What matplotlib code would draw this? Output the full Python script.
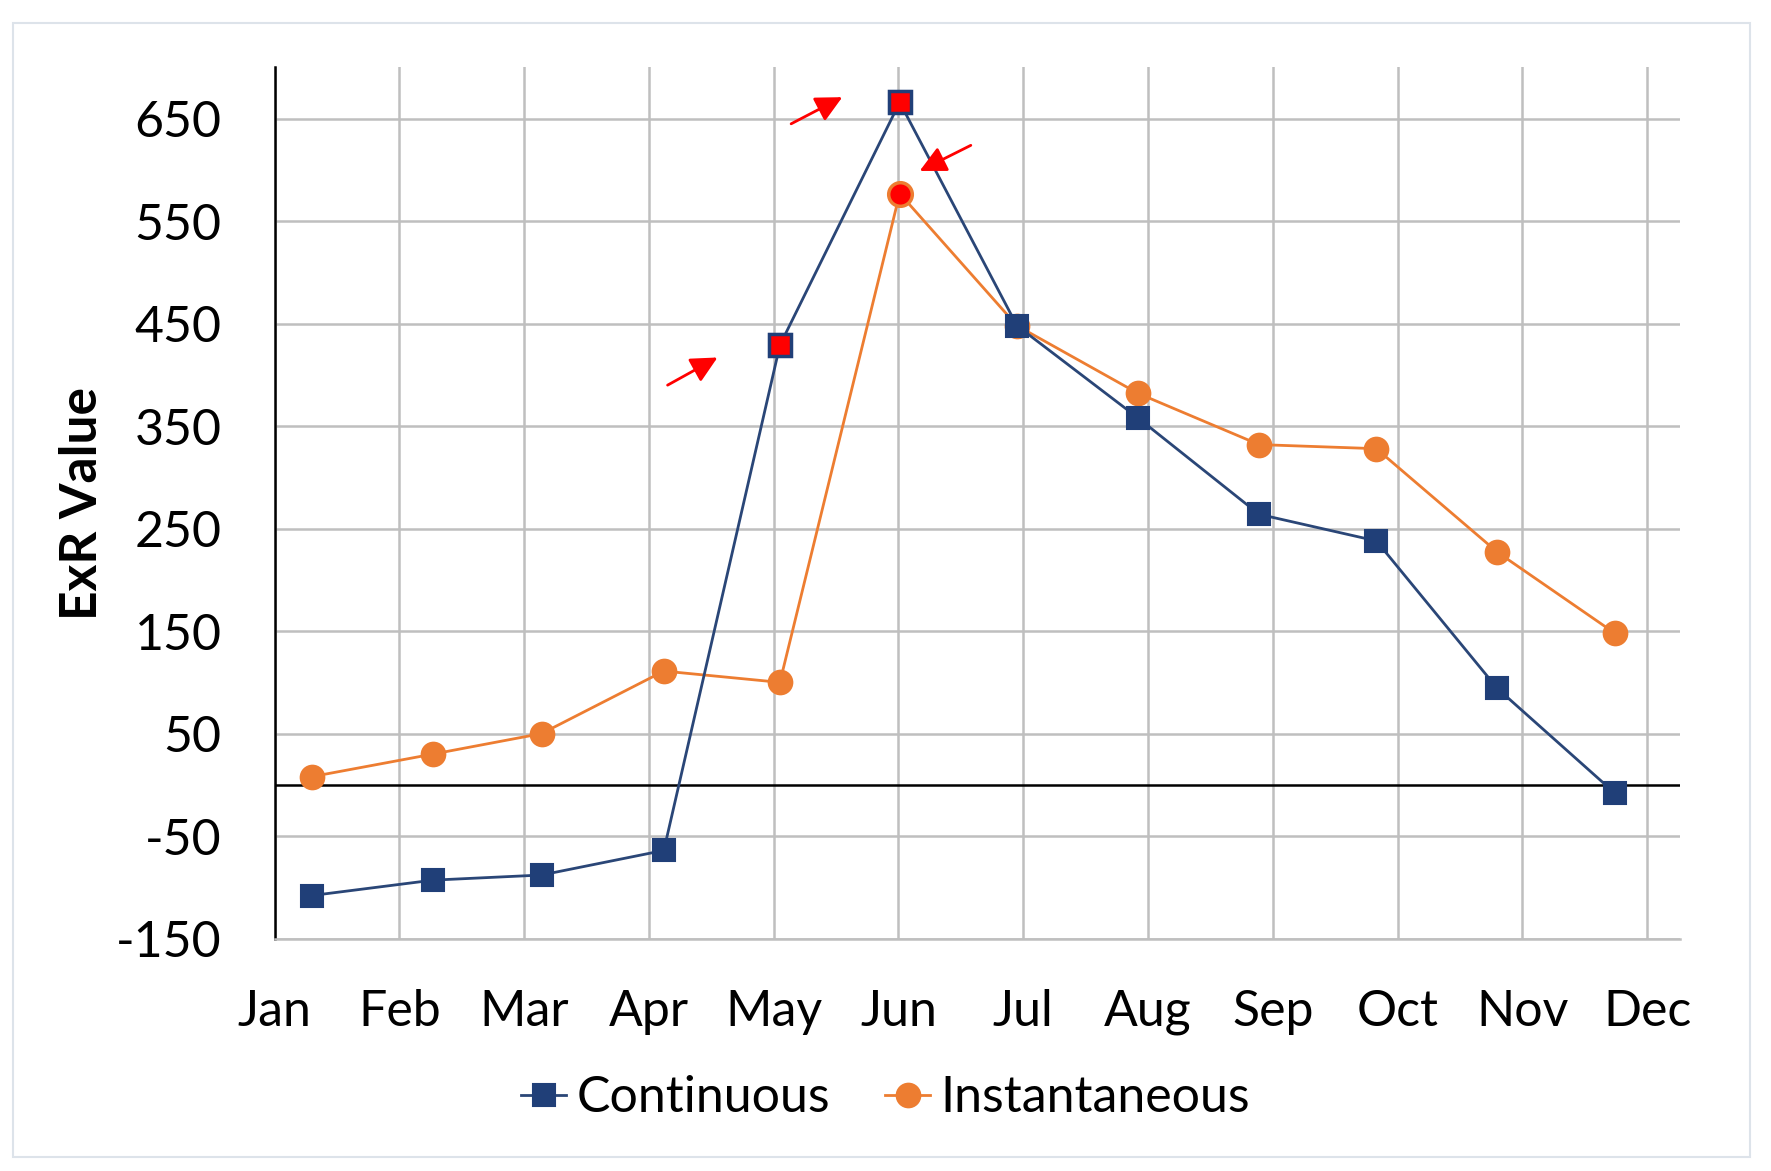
import matplotlib
matplotlib.use("Agg")
import matplotlib.pyplot as plt
from matplotlib.patches import Rectangle

# -------- data --------
MONTHS = ["Jan", "Feb", "Mar", "Apr", "May", "Jun",
          "Jul", "Aug", "Sep", "Oct", "Nov", "Dec"]
# position of each sample on the month axis (Jan = 0)
X_POS = [0.30, 1.27, 2.14, 3.12, 4.05, 5.01, 5.95, 6.92, 7.89, 8.83, 9.80, 10.74]
CONTINUOUS = [-108, -93, -88, -64, 429, 666, 448, 358, 264, 238, 94, -8]
INSTANTANEOUS = [8, 30, 50, 111, 100, 577, 448, 382, 332, 328, 227, 148]
# points highlighted in red
HIGHLIGHT_CONT = [4, 5]
HIGHLIGHT_INST = [5]
# red arrows (tail -> tip) in data units
ARROWS = [((3.15, 390), (3.55, 417)),
          ((4.14, 645), (4.55, 671)),
          ((5.58, 624), (5.17, 599))]
Y_TICKS = [-150, -50, 50, 150, 250, 350, 450, 550, 650]

# -------- style --------
NAVY = "#203F78"
NAVY_LINE = "#2A4677"
ORANGE = "#ED7D31"
GRID = "#BFBFBF"

plt.rcParams["font.family"] = ["Lato", "DejaVu Sans"]
plt.rcParams["axes.unicode_minus"] = False

fig = plt.figure(figsize=(17.71, 11.71), dpi=100)
ax = fig.add_axes([0.155, 0.1985, 0.7934, 0.7439])

ax.plot(X_POS, CONTINUOUS, color=NAVY_LINE, lw=2, marker="s", ms=16,
        mfc=NAVY, mec=NAVY, mew=1.5, label="Continuous", zorder=4)
ax.plot(X_POS, INSTANTANEOUS, color=ORANGE, lw=2, marker="o", ms=17,
        mfc=ORANGE, mec=ORANGE, mew=1.5, label="Instantaneous", zorder=3)

# red highlighted markers
ax.plot([X_POS[i] for i in HIGHLIGHT_CONT], [CONTINUOUS[i] for i in HIGHLIGHT_CONT],
        ls="none", marker="s", ms=16, mfc="red", mec=NAVY, mew=2.5, zorder=5)
ax.plot([X_POS[i] for i in HIGHLIGHT_INST], [INSTANTANEOUS[i] for i in HIGHLIGHT_INST],
        ls="none", marker="o", ms=17, mfc="red", mec=ORANGE, mew=2.5, zorder=5)

for tail, tip in ARROWS:
    ax.annotate("", xy=tip, xytext=tail,
                arrowprops=dict(arrowstyle="-|>", color="red", lw=2,
                                mutation_scale=40, shrinkA=0, shrinkB=0),
                zorder=6)

ax.axhline(0, color="black", lw=1.8, zorder=2)

ax.set_xlim(0, 11.26)
ax.set_ylim(-150, 700)
ax.set_xticks(range(len(MONTHS)))
ax.set_xticklabels(MONTHS)
ax.set_yticks(Y_TICKS)

ax.grid(True, color=GRID, lw=1.8, zorder=0)
ax.set_axisbelow(True)
for s in ["top", "right"]:
    ax.spines[s].set_visible(False)
ax.spines["bottom"].set_color(GRID)
ax.spines["bottom"].set_linewidth(1.8)
ax.spines["left"].set_color("black")
ax.spines["left"].set_linewidth(1.8)
ax.tick_params(axis="both", length=0, labelsize=36)
ax.tick_params(axis="x", pad=36)
ax.tick_params(axis="y", pad=38)

ax.set_ylabel("ExR Value", fontsize=37, fontweight="bold")
ax.yaxis.set_label_coords(-0.12, 0.5)

fig.legend(loc="center", bbox_to_anchor=(0.5, 0.0623), ncol=2, frameon=False,
           fontsize=36, handlelength=0.9, handletextpad=0.2, columnspacing=1.1)

# light outer frame
fig.patches.append(Rectangle((0.0076, 0.0123), 0.9803, 0.9684, transform=fig.transFigure,
                             fill=False, edgecolor="#DDE3EA", lw=1.5))

fig.savefig("out.png", dpi=100)
